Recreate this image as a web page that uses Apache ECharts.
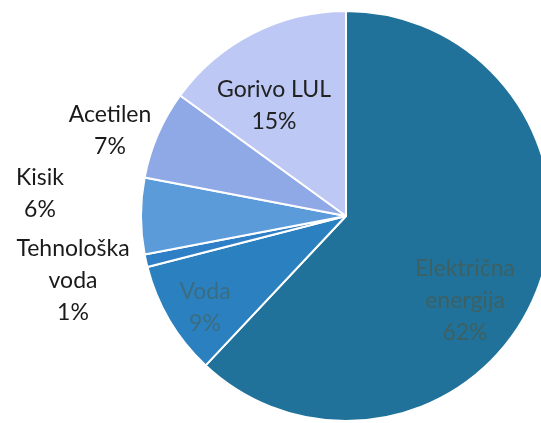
<!DOCTYPE html>
<html style="height: 100%">
<head>
	<meta charset="utf-8">
</head>
<body style="height: 100%; margin: 0; background-color: #fff;">
<div id="container" style="width: 541px; height: 423px"></div>
<script type="text/javascript" src="https://cdn.jsdelivr.net/npm/echarts@6/dist/echarts.min.js"></script>
<script type="text/javascript">
	// data, clockwise from 12 o'clock
	var names = ['Električna\nenergija', 'Voda', 'Tehnološka\nvoda', 'Kisik', 'Acetilen', 'Gorivo LUL'];
	var values = [62, 9, 1, 6, 7, 15];
	var colors = ['#21729a', '#2b80c0', '#2f7fc6', '#5b9bda', '#8fa8e6', '#bdc8f5'];
	var textColors = ['#3d6163', '#3b6d82', '#1a1a1a', '#1a1a1a', '#1a1a1a', '#222'];
	// label centres (px)
	var labelPos = [[465, 301], [205, 308], [73, 281], [40, 194], [110, 131], [274, 106]];

	var myChart = echarts.init(document.getElementById('container'));

	var option = {
		animation: false,
		series: [{
			type: 'pie',
			center: [346, 216],
			radius: 205,
			startAngle: 90,
			clockwise: true,
			avoidLabelOverlap: false,
			data: values.map(function(v, i) {
				return {
					name: names[i],
					value: v,
					itemStyle: { color: colors[i] },
					label: { color: textColors[i] }
				};
			}),
			itemStyle: {
				borderColor: '#fff',
				borderWidth: 2
			},
			label: {
				show: true,
				position: 'inside',
				formatter: '{b}\n{d}%',
				fontFamily: 'Lato',
				fontSize: 23,
				lineHeight: 32,
				align: 'center',
				overflow: 'none'
			},
			labelLine: { show: false },
			labelLayout: function(params) {
				var p = labelPos[params.dataIndex];
				return {
					x: p[0],
					y: p[1],
					align: 'center',
					verticalAlign: 'middle',
					hideOverlap: false
				};
			}
		}]
	};
	myChart.setOption(option);
</script>
</body>
</html>
